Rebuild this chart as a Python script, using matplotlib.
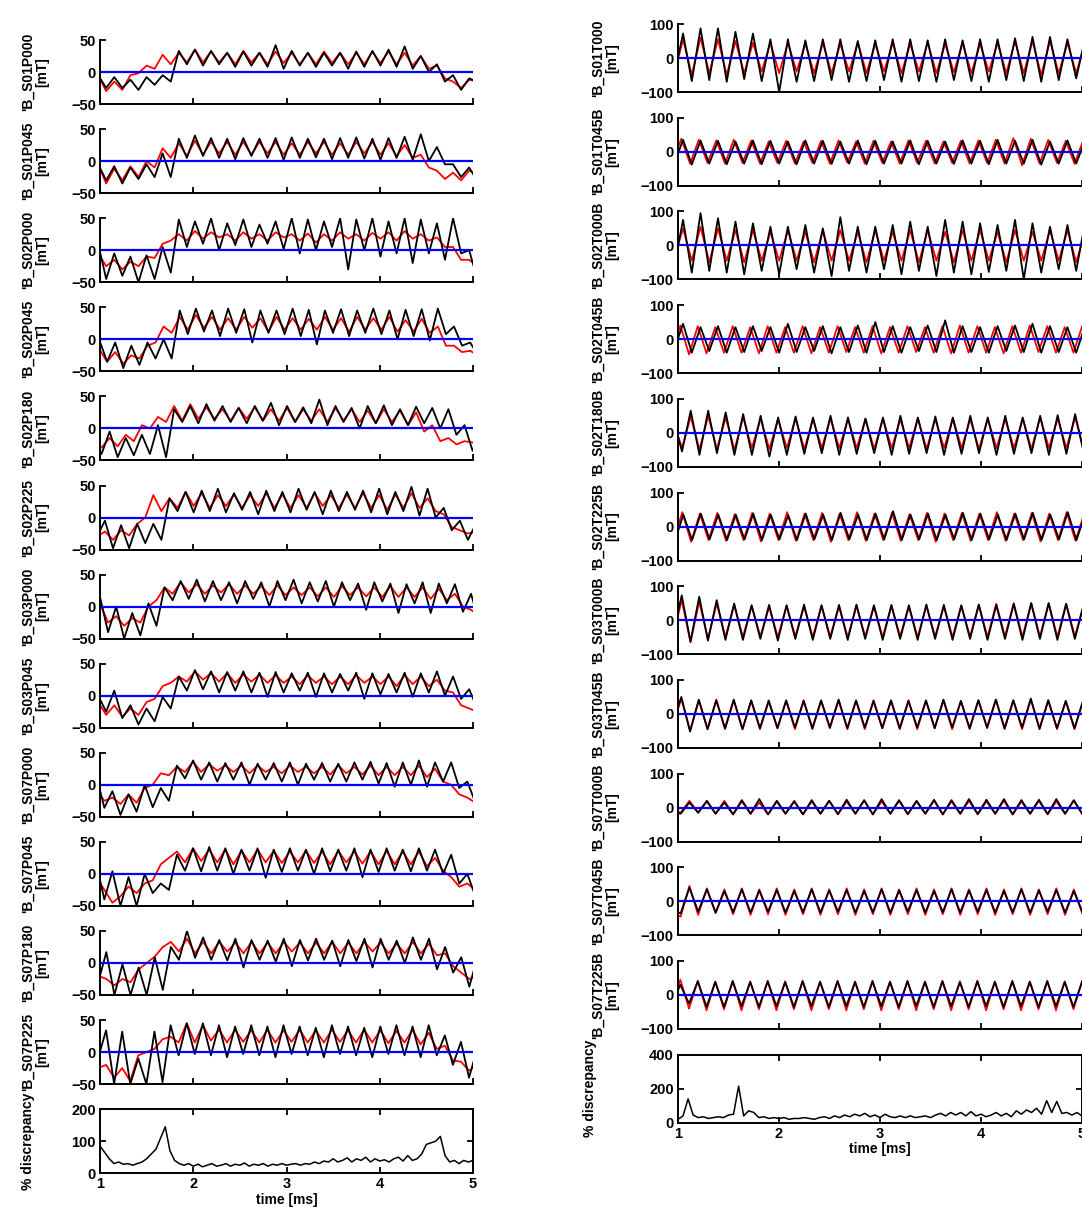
import numpy as np
import matplotlib.pyplot as plt

plt.rcParams['font.family'] = ['Liberation Sans', 'DejaVu Sans']
plt.rcParams['font.weight'] = 'bold'
plt.rcParams['axes.labelweight'] = 'bold'
plt.rcParams['font.size'] = 10

# half period of the drive oscillation [ms]; traces below are read off the
# picture as alternating peak / trough values, starting at t0 (a peak)
T_HALF = 0.0865

# ---------------- left column (poloidal probes) ----------------
left_names = ["S01P000", "S01P045", "S02P000", "S02P045", "S02P180", "S02P225",
              "S03P000", "S03P045", "S07P000", "S07P045", "S07P180", "S07P225"]
left_t0 = [0.98, 0.98, 0.98, 0.99, 0.93, 0.88, 1.0, 0.98, 0.96, 0.96, 0.895, 0.892]

b_s01p000 = [-5, -25, -8, -25, -12, -28, -8, -20, -5, -15, 33, 12, 35, 10, 33, 12, 30, 8, 32, 10,
             30, 8, 42, 5, 33, 10, 30, 8, 30, 10, 30, 5, 32, 8, 33, 10, 35, 8, 40, 5,
             25, 0, 12, -15, -5, -28, -10, -15, -10, -15]
r_s01p000 = [-5, -30, -15, -28, -5, -2, 10, 5, 27, 12, 30, 15, 35, 15, 32, 15, 30, 12, 33, 15,
             30, 12, 32, 14, 30, 12, 30, 12, 32, 14, 30, 12, 30, 12, 32, 14, 32, 12, 30, 10,
             25, 5, 10, -10, -15, -25, -12, -15, -12, -15]
b_s01p045 = [-5, -30, -8, -35, -10, -28, -5, -25, 12, -25, 35, 5, 40, 8, 36, 5, 35, 3, 36, 8,
             35, 5, 36, 2, 37, 5, 35, 6, 35, 3, 36, 5, 37, 4, 35, 2, 36, 5, 38, 2,
             42, 0, 22, -5, -5, -25, -10, -31, -10, -18]
r_s01p045 = [-5, -35, -12, -30, -8, -25, 0, -10, 20, 5, 28, 8, 32, 10, 30, 12, 30, 10, 30, 10,
             30, 12, 30, 10, 28, 10, 30, 12, 30, 10, 28, 10, 30, 12, 30, 10, 28, 8, 25, 5,
             10, -10, -15, -28, -18, -30, -15, -20, -15, -20]
b_s02p000 = [10, -45, -5, -40, -10, -50, -8, -45, 5, -35, 48, 5, 45, 10, 50, 0, 42, 8, 48, 5,
             40, 10, 45, 2, 50, -5, 48, 0, 45, 5, 50, -30, 48, 0, 50, -10, 45, -5, 50, -20,
             48, -5, 42, -15, 50, -5, 0, -45, -5, -40, -8, -30]
r_s02p000 = [-5, -25, -15, -30, -18, -25, -10, -12, 10, 15, 25, 15, 30, 18, 28, 20, 25, 15, 28, 18,
             25, 15, 28, 20, 25, 15, 26, 12, 25, 15, 28, 18, 25, 15, 27, 18, 28, 15, 30, 18,
             25, 15, 20, 5, 5, -15, -15, -25, -20, -28, -18, -22]
b_s02p045 = [0, -35, -5, -45, -10, -40, -5, -30, 0, -30, 45, 8, 48, 12, 45, 5, 48, 10, 47, -5,
             45, 10, 45, 8, 48, 5, 46, -8, 45, 10, 47, 5, 45, 10, 48, 8, 45, 0, 46, 5,
             47, -2, 48, 8, 20, -10, -5, -25, -10, -47, -10, -25]
r_s02p045 = [-15, -35, -20, -38, -25, -30, -10, -5, 20, 10, 35, 15, 38, 18, 35, 15, 33, 15, 35, 18,
             33, 12, 35, 15, 33, 15, 32, 15, 35, 15, 33, 12, 35, 15, 33, 15, 35, 12, 30, 12,
             32, 10, 20, -10, -10, -20, -18, -25, -15, -20]
b_s02p180 = [-15, -40, -5, -45, -15, -42, -10, -40, 5, -45, 30, 10, 35, 8, 38, 12, 35, 10, 32, 8,
             35, 12, 40, 5, 35, 10, 33, 8, 45, 5, 35, 10, 32, 0, 35, 8, 36, 5, 30, 5,
             34, 8, 32, 0, 30, -10, 5, -35, -10, -40, -15, -42]
r_s02p180 = [-20, -30, -15, -28, -10, -20, 5, 0, 18, 10, 35, 12, 38, 15, 33, 15, 30, 12, 32, 15,
             33, 12, 30, 12, 32, 10, 30, 12, 30, 10, 32, 12, 30, 10, 28, 8, 30, 10, 28, 5,
             25, -5, 5, -20, -15, -25, -20, -22, -18, -20]
b_s02p225 = [-5, -30, -5, -48, -12, -48, -10, -40, -10, -35, 30, 10, 40, 8, 42, 10, 45, 8, 38, 12,
             40, 5, 42, 10, 40, 8, 45, 12, 40, 5, 42, 10, 40, 12, 42, 8, 45, 5, 40, 10,
             48, 3, 45, 0, 15, -20, -5, -35, -10, -40]
r_s02p225 = [-20, -30, -22, -35, -20, -28, -10, 0, 35, 10, 30, 15, 40, 18, 38, 15, 35, 18, 36, 15,
             35, 18, 38, 15, 36, 15, 35, 15, 38, 18, 35, 15, 36, 15, 38, 15, 35, 12, 36, 15,
             38, 15, 30, 10, 5, -15, -20, -25, -22, -28]
b_s03p000 = [15, -40, 0, -50, -10, -45, 5, -30, 30, 10, 40, 12, 42, 8, 40, 10, 38, 5, 40, 12,
             38, 0, 40, 10, 42, 5, 38, 8, 40, 0, 38, 10, 36, -5, 38, 8, 36, -10, 35, 5,
             38, -10, 36, 5, 35, -8, 20, -25, 0, -30, 0, -20]
r_s03p000 = [5, -25, -15, -30, -18, -25, 0, 10, 30, 20, 38, 22, 35, 20, 33, 22, 35, 20, 33, 20,
             32, 18, 33, 18, 30, 18, 30, 16, 30, 15, 32, 18, 30, 16, 30, 15, 32, 15, 30, 15,
             30, 12, 28, 10, 20, 0, -5, -15, -15, -20, -20, -20]
b_s03p045 = [0, -25, 8, -35, -15, -45, -20, -40, -2, -20, 30, 8, 40, 10, 38, 5, 37, 8, 38, 5,
             36, -2, 37, 5, 35, 8, 36, -2, 35, 5, 34, 8, 36, -5, 35, 2, 34, 5, 36, -2,
             35, 5, 38, 0, 30, -5, 10, -20, -7, -25, -5, -25]
r_s03p045 = [-10, -30, -15, -33, -20, -30, -10, -5, 15, 20, 30, 22, 38, 25, 35, 22, 35, 20, 33, 22,
             33, 20, 32, 20, 30, 18, 32, 20, 30, 18, 30, 18, 32, 20, 30, 18, 30, 15, 32, 18,
             30, 15, 25, 8, 5, -15, -20, -25, -30, -20, -25, -20]
b_s07p000 = [15, -36, -10, -47, -15, -42, 0, -35, -5, -25, 30, 10, 38, 8, 35, 5, 34, 8, 35, 0,
             33, 8, 34, 5, 35, 0, 33, 8, 34, 5, 33, 5, 35, 8, 36, 2, 34, -3, 35, 0,
             38, -3, 35, 5, 35, -5, 5, -28, -10, -31, 0, -20]
r_s07p000 = [-8, -25, -20, -30, -15, -28, -5, 0, 18, 15, 28, 20, 36, 20, 32, 22, 30, 20, 30, 18,
             30, 20, 28, 18, 30, 20, 28, 18, 28, 16, 30, 18, 28, 16, 30, 15, 28, 15, 28, 15,
             30, 12, 25, 5, 0, -15, -20, -28, -22, -18, -25, -20]
b_s07p045 = [17, -40, 4, -50, -5, -50, 0, -30, -15, -25, 30, 5, 40, 4, 42, 5, 40, 0, 38, 5,
             40, -6, 38, 3, 40, 5, 38, 0, 40, 4, 38, 5, 40, -5, 38, 3, 40, 5, 38, 4,
             40, 5, 38, 0, 30, -15, 0, -35, -5, -35, -20, -20]
r_s07p045 = [-5, -25, -45, -35, -20, -30, -15, -10, 15, 25, 35, 18, 40, 20, 38, 18, 38, 15, 36, 18,
             38, 18, 36, 17, 35, 18, 36, 17, 35, 15, 36, 18, 35, 16, 35, 15, 36, 15, 35, 15,
             35, 12, 25, 5, -5, -20, -15, -25, -20, -30]
b_s07p180 = [5, -30, 17, -50, -2, -50, -7, -50, 9, -42, 25, 5, 50, 8, 40, 5, 36, 4, 38, -7,
             36, 5, 35, 2, 38, -5, 36, 4, 38, 5, 35, -5, 36, 3, 38, -7, 38, 5, 35, 0,
             40, 5, 38, -10, 25, -15, 9, -37, 9, -37, -23, -20]
r_s07p180 = [-10, -20, -25, -35, -25, -30, -10, 0, 10, 25, 33, 18, 38, 15, 33, 15, 33, 18, 32, 15,
             33, 15, 32, 15, 33, 18, 32, 15, 32, 15, 33, 15, 32, 15, 33, 18, 32, 15, 30, 15,
             33, 15, 30, 12, 15, -5, -15, -25, -20, -25, -20, -25]
b_s07p225 = [0, -10, 34, -50, 32, -50, -10, -50, 32, -47, 42, -5, 45, -3, 45, -5, 42, -8, 40, -3,
             42, -5, 40, -8, 42, -3, 40, -5, 38, -8, 42, -3, 40, -5, 38, -8, 40, -3, 42, -5,
             40, -8, 42, -5, 26, -20, 16, -40, 5, -40, -10, -20]
r_s07p225 = [0, -25, -20, -40, -25, -45, -5, 0, 5, 20, 24, 15, 45, 15, 42, 18, 35, 15, 35, 16,
             34, 15, 35, 15, 34, 16, 35, 15, 34, 15, 35, 16, 34, 15, 35, 15, 34, 14, 33, 15,
             35, 12, 30, 5, 10, -13, -15, -29, -20, -25, -20, -20]

# % discrepancy, left column, sampled every 0.05 ms from 1 to 5 ms
disc_t = np.linspace(1.0, 5.0, 81)
disc_left = [85, 65, 45, 30, 35, 28, 30, 25, 30, 35, 45, 60, 75, 110, 145, 70, 40, 30, 25, 30,
             22, 28, 20, 25, 30, 22, 25, 30, 22, 28, 25, 32, 22, 28, 25, 30, 22, 28, 25, 30,
             25, 28, 30, 25, 30, 28, 35, 30, 38, 35, 45, 35, 40, 48, 35, 45, 40, 50, 35, 45,
             38, 42, 35, 45, 50, 38, 55, 40, 45, 60, 90, 95, 100, 115, 55, 35, 40, 30, 40, 35, 40]

# ---------------- right column (toroidal probes) ----------------
right_names = ["S01T000", "S01T045B", "S02T000B", "S02T045B", "S02T180B", "S02T225B",
               "S03T000B", "S03T045B", "S07T000B", "S07T045B", "S07T225B"]
right_t0_black = [0.877, 0.877, 0.877, 0.877, 0.953, 0.88, 0.864, 0.86, 0.94, 0.94, 0.85]
right_t0_red = [0.877, 0.86, 0.877, 0.85, 0.953, 0.87, 0.864, 0.86, 0.94, 0.94, 0.85]

b_s01t000 = [60, -50, 72, -68, 87, -65, 87, -70, 77, -62, 72, -68, 55, -100, 55, -70, 52, -68, 55, -65,
             55, -70, 50, -68, 52, -65, 55, -70, 55, -68, 52, -70, 55, -65, 52, -68, 55, -70, 55, -65,
             58, -68, 62, -70, 62, -65, 55, -60, 55, -65]
r_s01t000 = [50, -45, 55, -50, 60, -45, 55, -50, 50, -45, 45, -40, 45, -45, 45, -40, 42, -45, 45, -45,
             42, -40, 45, -45, 42, -40, 45, -45, 42, -40, 45, -45, 42, -42, 45, -45, 42, -40, 45, -45,
             50, -45, 50, -50, 50, -45, 45, -45, 45, -45]
b_s01t045 = [40, -35, 35, -38, 33, -35, 32, -37, 30, -35, 33, -37, 32, -35, 30, -37, 33, -35, 32, -36,
             30, -35, 33, -37, 32, -35, 30, -35, 33, -37, 32, -35, 30, -36, 33, -35, 32, -37, 35, -35,
             32, -35, 35, -38, 30, -35, 33, -35, 32, -35]
r_s01t045 = [35, -30, 38, -35, 35, -33, 33, -35, 35, -33, 33, -35, 30, -33, 32, -35, 30, -33, 32, -35,
             33, -32, 30, -35, 32, -33, 30, -35, 33, -33, 32, -35, 30, -33, 32, -35, 33, -33, 35, -35,
             40, -40, 38, -35, 35, -33, 32, -35, 33, -35]
b_s02t000 = [65, -60, 75, -80, 95, -75, 80, -80, 70, -85, 65, -75, 55, -85, 55, -70, 60, -80, 50, -90,
             83, -75, 55, -80, 55, -70, 60, -85, 70, -75, 55, -90, 75, -80, 70, -85, 65, -78, 60, -75,
             75, -100, 65, -80, 55, -70, 60, -75, 65, -75]
r_s02t000 = [40, -35, 50, -45, 55, -50, 50, -45, 45, -50, 45, -45, 40, -45, 45, -45, 40, -50, 45, -45,
             45, -45, 40, -50, 45, -45, 40, -45, 45, -50, 45, -45, 40, -50, 45, -45, 45, -45, 40, -50,
             45, -45, 40, -45, 45, -45, 45, -50, 40, -45]
b_s02t045 = [40, -30, 45, -40, 35, -35, 38, -40, 35, -38, 38, -35, 35, -40, 45, -38, 35, -35, 38, -42,
             35, -38, 40, -40, 50, -38, 38, -40, 35, -35, 40, -38, 55, -40, 38, -38, 35, -40, 38, -35,
             40, -38, 45, -40, 38, -38, 35, -40, 38, -38]
r_s02t045 = [35, -40, 40, -45, 38, -42, 35, -40, 38, -40, 35, -42, 38, -40, 35, -40, 38, -42, 35, -40,
             38, -38, 35, -40, 38, -42, 35, -40, 38, -38, 35, -40, 38, -42, 40, -40, 38, -40, 35, -42,
             38, -40, 40, -38, 38, -40, 35, -40, 38, -40]
b_s02t180 = [40, -55, 65, -65, 65, -60, 60, -65, 55, -65, 50, -70, 45, -65, 48, -62, 45, -60, 50, -65,
             45, -62, 42, -60, 45, -65, 50, -62, 45, -60, 48, -65, 45, -62, 50, -60, 45, -65, 50, -62,
             45, -60, 50, -65, 52, -62, 55, -60, 50, -60]
r_s02t180 = [35, -45, 48, -50, 50, -48, 45, -50, 45, -45, 42, -48, 40, -45, 42, -48, 40, -45, 42, -45,
             40, -45, 40, -48, 42, -45, 40, -45, 42, -48, 40, -45, 42, -45, 40, -48, 42, -45, 40, -45,
             42, -48, 45, -45, 42, -45, 45, -48, 42, -45]
b_s02t225 = [40, -45, 35, -40, 38, -38, 35, -40, 35, -38, 38, -40, 35, -38, 33, -40, 38, -38, 35, -40,
             40, -38, 35, -40, 38, -38, 45, -40, 35, -38, 38, -40, 35, -38, 40, -40, 38, -38, 35, -40,
             38, -38, 40, -40, 35, -38, 42, -40, 38, -38]
r_s02t225 = [35, -40, 42, -45, 38, -40, 40, -42, 36, -40, 40, -44, 38, -40, 42, -42, 38, -40, 40, -45,
             38, -40, 42, -42, 38, -40, 40, -42, 36, -40, 40, -45, 38, -40, 40, -42, 38, -40, 42, -42,
             38, -40, 40, -44, 38, -40, 42, -42, 38, -40]
b_s03t000 = [55, -40, 73, -63, 69, -60, 59, -58, 49, -58, 44, -55, 45, -60, 44, -55, 46, -58, 44, -55,
             45, -58, 46, -55, 44, -58, 45, -55, 44, -58, 46, -55, 45, -58, 44, -55, 46, -58, 45, -55,
             48, -58, 50, -55, 50, -58, 48, -55, 45, -55]
r_s03t000 = [60, -50, 60, -65, 55, -55, 50, -50, 45, -50, 42, -48, 40, -50, 42, -48, 40, -50, 42, -48,
             40, -50, 42, -48, 40, -50, 42, -48, 40, -50, 42, -48, 40, -50, 42, -48, 45, -50, 48, -48,
             50, -50, 50, -48, 50, -50, 48, -48, 45, -50]
b_s03t045 = [45, -30, 50, -52, 42, -45, 40, -42, 42, -45, 40, -42, 38, -42, 40, -40, 38, -42, 40, -40,
             42, -42, 40, -40, 38, -42, 40, -42, 38, -40, 40, -42, 42, -40, 38, -42, 40, -40, 42, -42,
             40, -40, 45, -45, 40, -42, 38, -42, 40, -40]
r_s03t045 = [40, -35, 45, -50, 40, -45, 42, -45, 40, -45, 38, -45, 40, -42, 38, -45, 40, -45, 38, -42,
             40, -45, 38, -45, 40, -42, 38, -45, 40, -45, 38, -42, 40, -45, 38, -45, 40, -42, 42, -45,
             40, -45, 42, -42, 40, -45, 38, -45, 40, -42]
b_s07t000 = [-10, -18, 15, -15, 20, -18, 15, -20, 22, -18, 25, -20, 20, -18, 18, -20, 22, -18, 20, -19,
             23, -18, 22, -20, 25, -18, 22, -19, 20, -18, 23, -20, 22, -18, 25, -19, 23, -18, 25, -20,
             22, -18, 23, -19, 25, -18, 22, -20, 23, -18]
r_s07t000 = [-5, -15, 20, -15, 18, -18, 20, -20, 18, -18, 15, -20, 18, -18, 20, -20, 18, -18, 20, -20,
             18, -18, 20, -20, 18, -18, 20, -20, 18, -18, 20, -20, 18, -18, 20, -20, 18, -18, 20, -20,
             18, -18, 20, -20, 18, -18, 20, -20, 18, -18]
b_s07t045 = [-30, -35, 40, -30, 35, -33, 30, -32, 35, -33, 32, -30, 33, -33, 30, -32, 35, -33, 32, -30,
             33, -33, 30, -32, 35, -33, 32, -30, 33, -33, 30, -32, 35, -33, 32, -30, 33, -33, 30, -32,
             35, -33, 32, -30, 33, -33, 30, -32, 35, -33]
r_s07t045 = [-35, -45, 45, -40, 38, -35, 35, -38, 38, -40, 35, -38, 38, -40, 35, -38, 38, -40, 35, -38,
             38, -40, 35, -38, 38, -40, 35, -38, 38, -40, 35, -38, 38, -40, 35, -38, 38, -40, 35, -38,
             38, -40, 35, -38, 38, -40, 35, -38, 38, -40]
b_s07t225 = [45, -30, 30, -25, 40, -35, 38, -35, 40, -33, 38, -35, 40, -33, 38, -35, 40, -33, 38, -35,
             40, -33, 38, -35, 40, -33, 38, -35, 40, -33, 38, -35, 40, -33, 38, -35, 40, -33, 38, -35,
             40, -33, 38, -35, 40, -33, 38, -35, 40, -33]
r_s07t225 = [40, -35, 45, -40, 42, -45, 40, -42, 42, -45, 40, -42, 42, -45, 40, -42, 42, -45, 40, -42,
             42, -45, 40, -42, 42, -45, 40, -42, 42, -45, 40, -42, 42, -45, 40, -42, 42, -45, 40, -42,
             42, -45, 40, -42, 42, -45, 40, -42, 42, -45]

disc_right = [20, 40, 140, 45, 30, 35, 25, 30, 35, 30, 45, 50, 215, 40, 70, 60, 30, 35, 25, 30,
              25, 30, 20, 25, 25, 30, 25, 20, 30, 35, 25, 40, 30, 45, 35, 50, 40, 55, 35, 45,
              30, 50, 35, 30, 40, 30, 40, 30, 35, 40, 30, 45, 55, 40, 60, 45, 60, 40, 65, 40,
              50, 35, 45, 60, 40, 55, 35, 70, 50, 75, 60, 85, 50, 130, 60, 125, 55, 60, 45, 60, 40]

left_black = [b_s01p000, b_s01p045, b_s02p000, b_s02p045, b_s02p180, b_s02p225,
              b_s03p000, b_s03p045, b_s07p000, b_s07p045, b_s07p180, b_s07p225]
left_red = [r_s01p000, r_s01p045, r_s02p000, r_s02p045, r_s02p180, r_s02p225,
            r_s03p000, r_s03p045, r_s07p000, r_s07p045, r_s07p180, r_s07p225]
right_black = [b_s01t000, b_s01t045, b_s02t000, b_s02t045, b_s02t180, b_s02t225,
               b_s03t000, b_s03t045, b_s07t000, b_s07t045, b_s07t225]
right_red = [r_s01t000, r_s01t045, r_s02t000, r_s02t045, r_s02t180, r_s02t225,
             r_s03t000, r_s03t045, r_s07t000, r_s07t045, r_s07t225]

W, H = 1082, 1210
fig = plt.figure(figsize=(W / 100, H / 100), dpi=100)


def make_axes(x0, width, top, height):
    """Axes from pixel coordinates of the reference picture"""
    return fig.add_axes([x0 / W, 1 - (top + height) / H, width / W, height / H])


def style_axes(ax, ylim, yticks, boxed=False, xlabels=False):
    ax.set_xlim(1, 5)
    ax.set_ylim(*ylim)
    ax.set_xticks([1, 2, 3, 4, 5])
    ax.set_yticks(yticks)
    ax.tick_params(direction='in', length=4, width=1.3, labelsize=10.5,
                   top=boxed, right=boxed, labelbottom=xlabels, pad=3)
    for s in ['left', 'bottom', 'top', 'right']:
        ax.spines[s].set_linewidth(1.4)
    if not boxed:
        ax.spines['top'].set_visible(False)
        ax.spines['right'].set_visible(False)


def draw_trace(ax, t0, vals, color):
    t = t0 + T_HALF * np.arange(len(vals))
    ax.plot(t, vals, color=color, lw=1.3)


def signal_panel(ax, name, t0b, t0r, black, red, ylim, yticks, label_x):
    draw_trace(ax, t0r, red, 'red')
    draw_trace(ax, t0b, black, 'black')
    ax.axhline(0, color='blue', lw=1.6)
    style_axes(ax, ylim, yticks)
    ax.set_ylabel("'B_" + name + "\n[mT]", fontsize=10, fontweight='bold',
                  linespacing=1.05)
    ax.yaxis.set_label_coords(label_x, 0.5)


# left column
for i, name in enumerate(left_names):
    ax = make_axes(100, 373, 40 + i * 89.1, 64)
    signal_panel(ax, name, left_t0[i], left_t0[i], left_black[i], left_red[i],
                 (-50, 50), [-50, 0, 50], -0.135)

ax = make_axes(100, 373, 40 + 12 * 89.1, 64)
ax.plot(disc_t, disc_left, color='black', lw=1.1)
style_axes(ax, (0, 200), [0, 100, 200], boxed=True, xlabels=True)
ax.set_ylabel('% discrepancy', fontsize=10, fontweight='bold')
ax.yaxis.set_label_coords(-0.175, 0.5)
ax.set_xlabel('time [ms]', fontsize=10, fontweight='bold', labelpad=1)

# right column
for i, name in enumerate(right_names):
    ax = make_axes(678, 404, 24 + i * 93.7, 68)
    signal_panel(ax, name, right_t0_black[i], right_t0_red[i], right_black[i], right_red[i],
                 (-100, 100), [-100, 0, 100], -0.145)

ax = make_axes(678, 404, 24 + 11 * 93.7, 68)
ax.plot(disc_t, disc_right, color='black', lw=1.1)
style_axes(ax, (0, 400), [0, 200, 400], boxed=True, xlabels=True)
ax.set_ylabel('% discrepancy', fontsize=10, fontweight='bold')
ax.yaxis.set_label_coords(-0.2, 0.5)
ax.set_xlabel('time [ms]', fontsize=10, fontweight='bold', labelpad=1)

fig.savefig('out.png', dpi=100)
